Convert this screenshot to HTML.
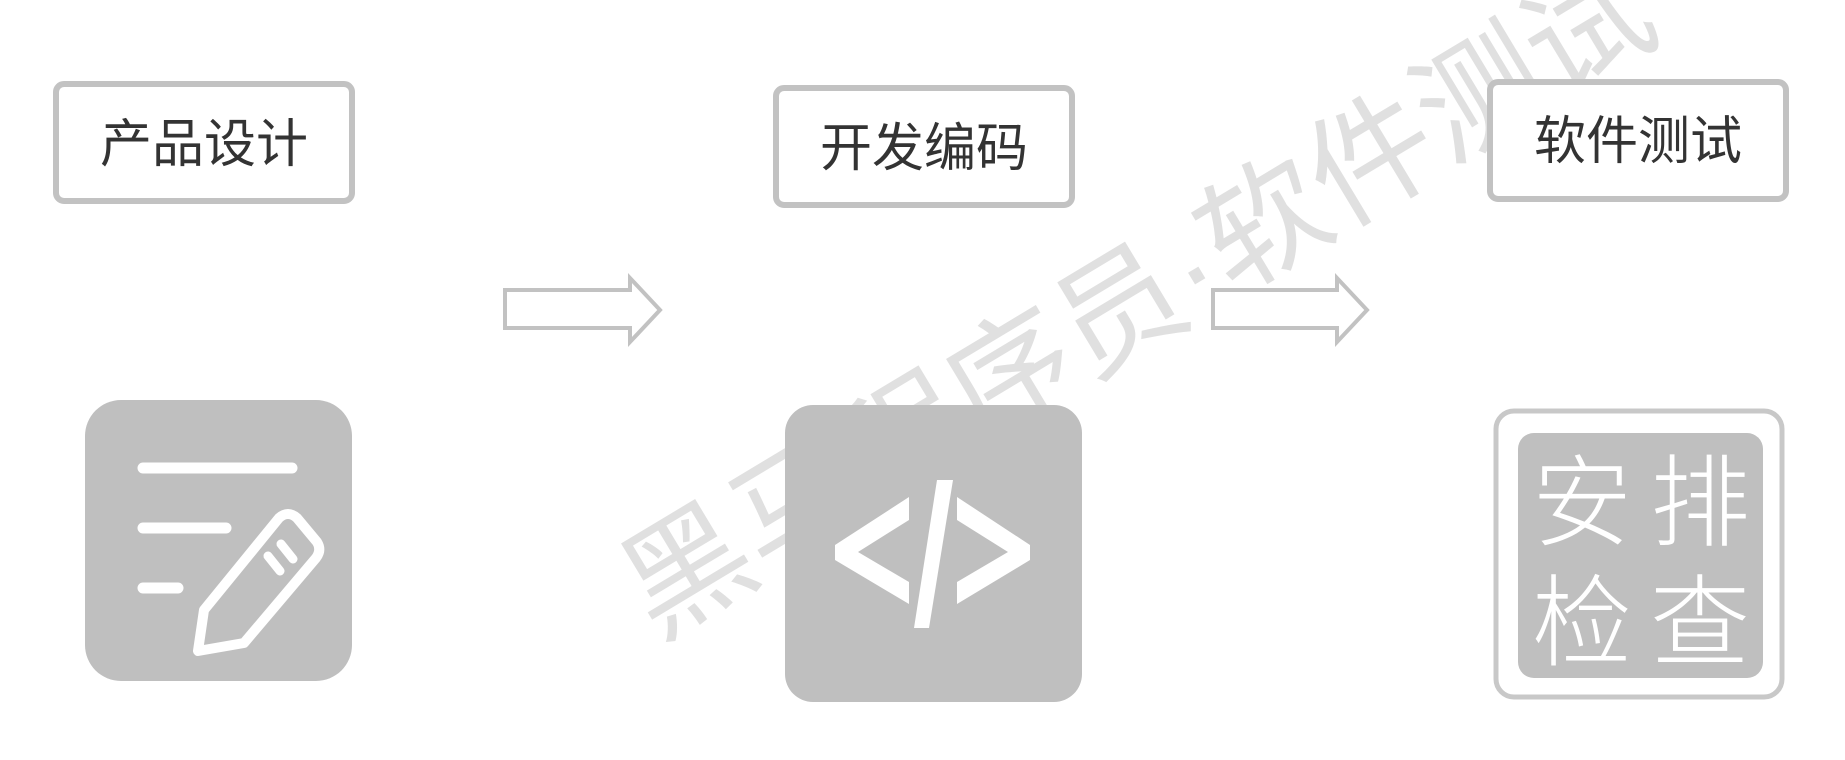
<!DOCTYPE html>
<html><head><meta charset="utf-8"><style>
html,body{margin:0;padding:0;background:#fff;width:1845px;height:760px;overflow:hidden}
</style></head><body>
<svg width="1845" height="760" viewBox="0 0 1845 760" xmlns="http://www.w3.org/2000/svg" style="font-family:'Liberation Sans','Noto Sans CJK SC',sans-serif">
<!-- watermark -->
<text x="0" y="0" transform="translate(1138,300) rotate(-31)" text-anchor="middle" dominant-baseline="central" font-size="126" fill="#e0e0e0" font-weight="400">黑马程序员·软件测试</text>

<!-- label boxes -->
<g fill="#fff" stroke="#c2c2c2" stroke-width="6">
<rect x="56" y="84" width="296" height="117" rx="8"/>
<rect x="776" y="88" width="296" height="117" rx="8"/>
<rect x="1490" y="82" width="296" height="117" rx="8"/>
</g>
<g font-size="52" fill="#333" text-anchor="middle">
<text x="204" y="162">产品设计</text>
<text x="924" y="166">开发编码</text>
<text x="1638" y="159">软件测试</text>
</g>

<!-- arrows -->
<g fill="#fff" stroke="#c2c2c2" stroke-width="4">
<polygon points="505,290 630,290 630,278 660,310 630,342 630,328 505,328"/>
<polygon points="1213,290 1337,290 1337,278 1367,310 1337,342 1337,328 1213,328"/>
</g>

<!-- icon1 -->
<rect x="85" y="400" width="267" height="281" rx="36" fill="#bfbfbf"/>
<g stroke="#fff" stroke-width="11" stroke-linecap="round" fill="none">
<line x1="143" y1="468" x2="292" y2="468"/>
<line x1="143" y1="528" x2="226" y2="528"/>
<line x1="143" y1="588" x2="178" y2="588"/>
</g>
<path d="M204,610 L279,518 Q288,510 297,518 L317,542 Q322,550 316,558 L244,643 L198,651 Z" fill="none" stroke="#fff" stroke-width="10" stroke-linejoin="round"/>
<g stroke="#fff" stroke-width="9" stroke-linecap="round">
<line x1="268" y1="556" x2="280" y2="571"/>
<line x1="281" y1="544" x2="293" y2="559"/>
</g>

<!-- icon2 -->
<rect x="785" y="405" width="297" height="297" rx="28" fill="#bfbfbf"/>
<g fill="#fff">
<polygon points="909,497 909,520 858,552 909,582 909,604 835,560 835,545"/>
<polygon points="957,497 957,520 1008,552 957,582 957,604 1030,560 1030,545"/>
<polygon points="937,480 953,480 929,628 914,628"/>
</g>

<!-- icon3 -->
<rect x="1496" y="411" width="286" height="286" rx="18" fill="none" stroke="#c8c8c8" stroke-width="5"/>
<rect x="1518" y="433" width="245" height="245" rx="16" fill="#bfbfbf"/>
<g font-size="100" fill="#fff" text-anchor="middle" font-family="'Noto Sans CJK SC',sans-serif" font-weight="300">
<text x="1582" y="538">安</text>
<text x="1700" y="538">排</text>
<text x="1582" y="658">检</text>
<text x="1700" y="658">查</text>
</g>
</svg>
</body></html>
